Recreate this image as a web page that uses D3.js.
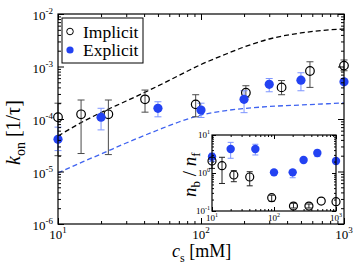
<!DOCTYPE html>
<html>
<head>
<meta charset="utf-8">
<script src="https://cdn.jsdelivr.net/npm/d3@7"></script>
<style>
  html, body { margin: 0; padding: 0; background: #fff; }
  svg { display: block; }
</style>
</head>
<body>
<div id="chart"></div>
<script>
// main panel: k_on vs c_s
const implicitC  = [10, 14.5, 22.5, 40.6, 91.8, 206, 366, 578, 1000]
const implicitK  = [1.08e-4, 1.23e-4, 1.23e-4, 2.37e-4, 1.9e-4, 3.17e-4, 4.0e-4, 8.2e-4, 1.04e-3]
const implicitHi = [2.0e-4, 2.3e-4, 2.3e-4, 3.56e-4, 2.9e-4, 4.3e-4, 5.4e-4, 1.23e-3, 1.33e-3]
const implicitLo = [2.0e-5, 2.2e-5, 2.1e-5, 1.35e-4, 1.1e-4, 2.6e-4, 2.9e-4, 4.0e-4, 8.3e-4]

const explicitC  = [10, 20, 50, 100, 200, 300, 500, 1000]
const explicitK  = [4.1e-5, 1.08e-4, 1.6e-4, 1.48e-4, 2.37e-4, 4.57e-4, 5.5e-4, 5.1e-4]
const explicitHi = [7.0e-5, 1.6e-4, 2.13e-4, 2.0e-4, 3.45e-4, 5.9e-4, 7.6e-4, null]
const explicitLo = [2.5e-5, 6.2e-5, 1.1e-4, 1.07e-4, 1.32e-4, 3.3e-4, 3.45e-4, null]

// dashed theory curves
const curveC        = [10, 15, 20, 30, 50, 70, 100, 150, 200, 300, 500, 700, 1000]
const theoryImplicit = [4.74e-5, 8.95e-5, 1.33e-4, 2.2e-4, 4.25e-4, 6.75e-4, 1.09e-3, 1.73e-3, 2.35e-3, 3.34e-3, 4.35e-3, 4.85e-3, 5.18e-3]
const theoryExplicit = [9.35e-6, 1.54e-5, 2.15e-5, 3.49e-5, 6.17e-5, 8.77e-5, 1.19e-4, 1.45e-4, 1.58e-4, 1.73e-4, 1.85e-4, 1.93e-4, 2.02e-4]

// inset: n_b / n_f
const ratioImp   = [2.07, 1.56, 0.885, 0.785, 0.224, 0.135, 0.135, 0.183, 0.176]
const ratioImpHi = [2.97, 2.59, 1.15, 1.08, 0.26, 0.16, 0.153, null, null]
const ratioImpLo = [1.32, 0.53, 0.59, 0.46, 0.18, 0.12, 0.12, null, null]
const ratioExp   = [2.69, 4.29, 4.29, 1.04, 1.04, 2.2, 3.35, 2.07]
const ratioExpHi = [3.3, 6.4, 5.7, null, 1.2, null, 4.0, null]
const ratioExpLo = [2.0, 2.44, 2.98, null, 0.75, null, 2.7, null]

const W = 354, H = 271
const blue = '#2342f2'
const blueErr = '#7d95ff'
const greyErr = '#4a4a4a'
const serif = '"Liberation Serif", "DejaVu Serif", serif'

const svg = d3.select('#chart').append('svg')
    .attr('width', W).attr('height', H)
    .attr('viewBox', [0, 0, W, H])
    .attr('font-family', serif)
svg.append('rect').attr('width', W).attr('height', H).attr('fill', '#fff')

const main = { l: 58, r: 344, t: 14, b: 224 }
const x = d3.scaleLog().domain([10, 1000]).range([main.l, main.r])
const y = d3.scaleLog().domain([1e-6, 1e-2]).range([main.b, main.t])

const ins = { l: 212, r: 336, t: 135, b: 211 }
const xi = d3.scaleLog().domain([10, 1000]).range([ins.l, ins.r])
const yi = d3.scaleLog().domain([0.1, 10]).range([ins.b, ins.t])

const minorOf = (dom) => {
    const out = []
    for (let e = Math.log10(dom[0]); e < Math.log10(dom[1]); e++)
        for (let m = 2; m <= 9; m++) out.push(m * Math.pow(10, e))
    return out
}
const majorOf = (dom) => {
    const out = []
    for (let e = Math.log10(dom[0]); e <= Math.log10(dom[1]) + 1e-9; e++) out.push(Math.pow(10, e))
    return out
}

// power-of-ten label: "10" + superscript
function powLabel(sel, supSize, dy) {
    sel.each(function(d) {
        const t = d3.select(this).text(null)
        t.append('tspan').text('10')
        t.append('tspan').attr('dy', dy).attr('font-size', supSize)
            .text(Math.round(Math.log10(d)))
    })
}

// frame with inward ticks on all four sides
function frame(g, sx, sy, box, o) {
    const mk = (axis, tr, vals, size) => {
        const a = g.append('g').attr('transform', tr)
            .call(axis.tickValues(vals).tickSize(size).tickFormat(''))
        a.select('.domain').remove()
        a.selectAll('line').attr('stroke', '#000').attr('stroke-width', 1)
        return a
    }
    const xM = majorOf(sx.domain()), xm = minorOf(sx.domain())
    const yM = majorOf(sy.domain()), ym = minorOf(sy.domain())
    mk(d3.axisBottom(sx), `translate(0,${box.b})`, xM, -o.major)
    mk(d3.axisBottom(sx), `translate(0,${box.b})`, xm, -o.minor)
    mk(d3.axisTop(sx), `translate(0,${box.t})`, xM, -o.major)
    mk(d3.axisTop(sx), `translate(0,${box.t})`, xm, -o.minor)
    mk(d3.axisLeft(sy), `translate(${box.l},0)`, yM, -o.major)
    mk(d3.axisLeft(sy), `translate(${box.l},0)`, ym, -o.minor)
    mk(d3.axisRight(sy), `translate(${box.r},0)`, yM, -o.major)
    mk(d3.axisRight(sy), `translate(${box.r},0)`, ym, -o.minor)

    g.append('rect')
        .attr('x', box.l).attr('y', box.t)
        .attr('width', box.r - box.l).attr('height', box.b - box.t)
        .attr('fill', 'none').attr('stroke', '#000').attr('stroke-width', o.frameW)

    g.append('g').selectAll('text').data(xM).enter().append('text')
        .attr('x', d => sx(d)).attr('y', box.b + o.xLabDy)
        .attr('text-anchor', 'middle').attr('font-size', o.font)
        .attr('font-family', serif)
        .call(powLabel, o.sup, o.supDy)
    g.append('g').selectAll('text').data(yM).enter().append('text')
        .attr('x', box.l - o.yLabPad).attr('y', d => sy(d) + o.yLabDy)
        .attr('text-anchor', 'end').attr('font-size', o.font)
        .attr('font-family', serif)
        .call(powLabel, o.sup, o.supDy)
}

function errBars(g, sx, sy, xs, lo, hi, color, cap) {
    xs.forEach((c, i) => {
        if (lo[i] == null || hi[i] == null) return
        const px = sx(c), y0 = sy(lo[i]), y1 = sy(hi[i])
        g.append('line').attr('x1', px).attr('x2', px).attr('y1', y0).attr('y2', y1)
            .attr('stroke', color).attr('stroke-width', 1)
        ;[y0, y1].forEach(yy => g.append('line')
            .attr('x1', px - cap).attr('x2', px + cap).attr('y1', yy).attr('y2', yy)
            .attr('stroke', color).attr('stroke-width', 1))
    })
}

// ---- main panel
const gMain = svg.append('g')

const line = d3.line().curve(d3.curveMonotoneX)
gMain.append('path')
    .attr('d', line(curveC.map((c, i) => [x(c), y(theoryImplicit[i])])))
    .attr('fill', 'none').attr('stroke', '#000').attr('stroke-width', 1.3)
    .attr('stroke-dasharray', '5,3')
gMain.append('path')
    .attr('d', line(curveC.map((c, i) => [x(c), y(theoryExplicit[i])])))
    .attr('fill', 'none').attr('stroke', '#3f63f0').attr('stroke-width', 1.3)
    .attr('stroke-dasharray', '5,3')

errBars(gMain, x, y, implicitC, implicitLo, implicitHi, greyErr, 3.5)
errBars(gMain, x, y, explicitC, explicitLo, explicitHi, blueErr, 3.5)

gMain.selectAll('.imp').data(implicitC).enter().append('circle')
    .attr('cx', d => x(d)).attr('cy', (d, i) => y(implicitK[i])).attr('r', 4.3)
    .attr('fill', 'none').attr('stroke', '#000').attr('stroke-width', 1.2)
gMain.selectAll('.exp').data(explicitC).enter().append('circle')
    .attr('cx', d => x(d)).attr('cy', (d, i) => y(explicitK[i])).attr('r', 4.6)
    .attr('fill', blue)

frame(gMain, x, y, main, {
    major: 6, minor: 3, frameW: 1.2, font: 13, sup: 9, supDy: -6,
    xLabDy: 15, yLabPad: 5, yLabDy: 6
})

// legend
const leg = svg.append('g')
leg.append('rect').attr('x', 62).attr('y', 18).attr('width', 81).attr('height', 45)
    .attr('fill', '#fff').attr('stroke', '#000').attr('stroke-width', 1)
leg.append('circle').attr('cx', 70).attr('cy', 31.5).attr('r', 3.3)
    .attr('fill', 'none').attr('stroke', '#000').attr('stroke-width', 1)
leg.append('circle').attr('cx', 70).attr('cy', 50).attr('r', 3.6).attr('fill', blue)
leg.append('text').attr('x', 83).attr('y', 37.5).attr('font-size', 17.5)
    .attr('font-family', serif).text('Implicit')
leg.append('text').attr('x', 83).attr('y', 56).attr('font-size', 17.5)
    .attr('font-family', serif).text('Explicit')

// axis titles
const xt = svg.append('text').attr('x', 172).attr('y', 257).attr('font-size', 18)
    .attr('font-family', serif)
xt.append('tspan').attr('font-style', 'italic').text('c')
xt.append('tspan').attr('dy', 5).attr('font-size', 12).text('s')
xt.append('tspan').attr('dy', -5).text(' [mM]')

const yt = svg.append('text')
    .attr('transform', 'translate(20,165) rotate(-90)').attr('font-size', 20)
    .attr('font-family', serif)
yt.append('tspan').attr('font-style', 'italic').text('k')
yt.append('tspan').attr('dy', 5).attr('font-size', 14).text('on')
yt.append('tspan').attr('dy', -5).text(' [1/τ]')

// ---- inset
const gIns = svg.append('g')
gIns.append('rect').attr('x', ins.l).attr('y', ins.t)
    .attr('width', ins.r - ins.l).attr('height', ins.b - ins.t).attr('fill', '#fff')

errBars(gIns, xi, yi, implicitC, ratioImpLo, ratioImpHi, '#222', 3)
errBars(gIns, xi, yi, explicitC, ratioExpLo, ratioExpHi, blueErr, 3)

gIns.selectAll('.exp').data(explicitC).enter().append('circle')
    .attr('cx', d => xi(d)).attr('cy', (d, i) => yi(ratioExp[i])).attr('r', 4.2)
    .attr('fill', blue)
gIns.selectAll('.imp').data(implicitC).enter().append('circle')
    .attr('cx', d => xi(d)).attr('cy', (d, i) => yi(ratioImp[i])).attr('r', 4)
    .attr('fill', 'none').attr('stroke', '#000').attr('stroke-width', 1.2)

frame(gIns, xi, yi, ins, {
    major: 4, minor: 2, frameW: 1.2, font: 9, sup: 6, supDy: -4,
    xLabDy: 10, yLabPad: 2, yLabDy: 3
})

const it = svg.append('text')
    .attr('transform', 'translate(196,197) rotate(-90)').attr('font-size', 19)
    .attr('font-family', serif)
it.append('tspan').attr('font-style', 'italic').text('n')
it.append('tspan').attr('dy', 4).attr('font-size', 13).text('b')
it.append('tspan').attr('dy', -4).text(' / ')
it.append('tspan').attr('font-style', 'italic').text('n')
it.append('tspan').attr('dy', 4).attr('font-size', 13).text('f')
</script>
</body>
</html>
